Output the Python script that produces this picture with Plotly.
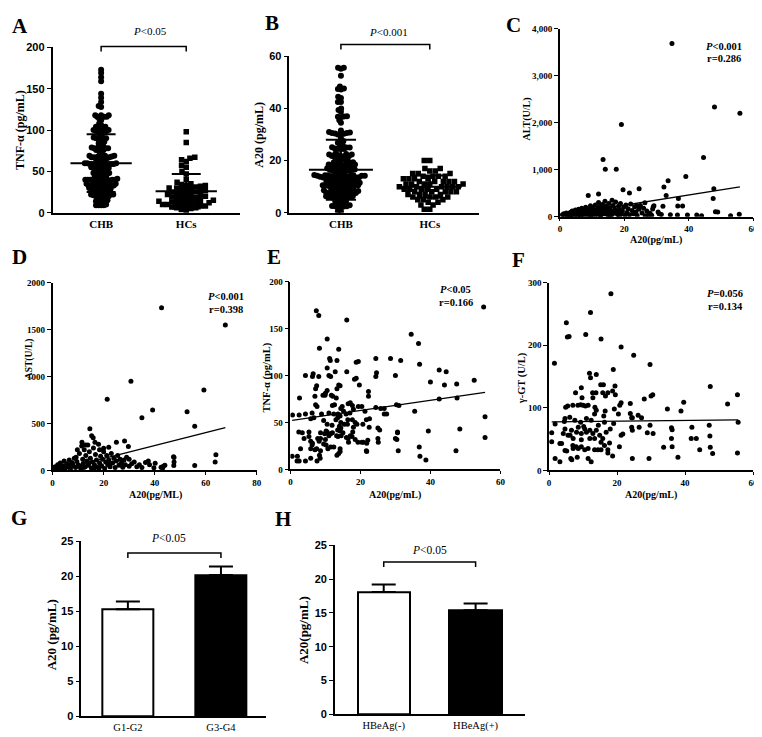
import math
import plotly.graph_objects as go

W, H = 762, 737

# ---------------- data ----------------
# CHB patients: A20 (x) vs TNF-alpha (y); also used for the CHB columns of A and B
e_a20 = [7.4, 8.1, 16.1, 10.5, 8.3, 13.8, 11.2, 11.4, 13.3, 19.4,
         18.8, 24.4, 28.6, 31.5, 34.5, 10.5, 12.8, 16.1, 11, 11.5,
         8.1, 6.5, 6.3, 4.3, 24.6, 24.4, 30, 18.3, 18.8, 19.7,
         13.8, 7.5, 7.2, 10.5, 13.3, 14.2, 10, 9.3, 9.9, 11.7,
         12.1, 13.1, 7, 2.6, 22.3, 22.3, 7.2, 7.6, 12, 12.6,
         14.8, 14.4, 16.5, 17.1, 17.7, 19.4, 20.4, 18, 15.2, 15.9,
         17, 21.3, 24.4, 25.8, 26.8, 27.5, 26.8, 30.3, 31, 35.5,
         2.5, 4.3, 6.2, 6.7, 8.9, 11, 12.4, 13.6, 14.2, 5.8,
         9.5, 10.5, 13, 13.5, 14, 14.4, 11.9, 13.5, 14.2, 14.4,
         15.4, 16.3, 16.4, 17.7, 18.5, 19, 21.7, 22.6, 20.7, 22.5,
         18, 3.4, 5.3, 5.3, 5.8, 6.3, 7.8, 8.2, 3.9, 6.2,
         8.6, 9.8, 10.2, 10.5, 11, 11.5, 12, 13.2, 13.6, 14.5,
         15, 16, 16.5, 17.1, 17.6, 17.8, 16.6, 18.5, 19.3, 20.4,
         20.8, 22.1, 21.8, 25, 25.1, 25, 30, 30.6, 30.8, 21.8,
         9.5, 10.2, 10.7, 11.5, 12.4, 14.2, 13.8, 13.3, 14.2, 5.8,
         7, 7.5, 8.6, 8.3, 8.5, 7.6, 5.8, 2.5, 4.3, 2,
         2.9, 8.6, 10, 55.2, 36.6, 36.9, 40, 42.5, 44.5, 44,
         47.5, 52.5, 42.5, 47.6, 55.6, 55.6, 48.4, 47.3, 39.4, 36.8,
         37, 38.7, 30.6, 30.4, 25.5, 21.7, 0.5, 1.9, 2.4, 0.6]
e_tnf = [169, 164, 159, 139, 129, 128, 118, 116, 116, 115,
         114, 118, 118, 116, 144, 108, 104, 104, 100, 99,
         99, 102, 99, 100, 103, 99, 100, 96, 97, 90,
         90, 89, 86, 84, 86, 89, 81, 79, 79, 79,
         78, 76, 78, 76, 83, 78, 69, 67, 68, 69,
         67, 65, 70, 71, 68, 67, 67, 64, 62, 59,
         60, 62, 66, 65, 65, 59, 59, 69, 68, 62,
         58, 59, 60, 55, 59, 60, 59, 59, 57, 54,
         52, 48, 53, 55, 46, 44, 47, 42, 41, 50,
         48, 48, 53, 53, 50, 48, 53, 54, 48, 45,
         45, 39, 40, 35, 30, 28, 33, 30, 33, 26,
         39, 38, 41, 40, 36, 38, 39, 36, 35, 36,
         39, 34, 33, 36, 35, 40, 29, 32, 29, 29,
         29, 31, 28, 33, 29, 44, 33, 39, 20, 19,
         27, 26, 22, 24, 24, 22, 17, 15, 19, 22,
         21, 22, 20, 15, 12, 9, 12, 9, 9, 14,
         22, 33, 32, 173, 134, 112, 93, 106, 104, 90,
         91, 95, 75, 76, 56, 34, 43, 20, 41, 24,
         14, 10, 40, 32, 42, 20, 14, 9, 40, 58]

hc_tnf = [98, 85, 67, 66, 64, 62, 57, 55, 50, 47, 40, 37, 35, 34, 33, 33, 32, 31, 30, 29,
          28, 27, 27, 26, 25, 24, 23, 22, 21, 20, 20, 19, 18, 17, 16, 15, 15, 14, 13, 12,
          12, 11, 10, 10, 9, 8, 8, 7, 6, 5, 4, 3, 22, 18, 14, 10, 30, 25, 12, 6]
hc_a20 = [20, 20, 17, 17, 16, 16, 15, 15, 15, 14, 14, 14, 13, 13, 13, 13, 12, 12, 12, 12,
          11, 11, 11, 11, 10, 10, 10, 10, 10, 9, 9, 9, 9, 8, 8, 8, 8, 7, 7, 7,
          7, 6, 6, 6, 5, 5, 5, 4, 4, 3, 3, 1.3, 1.3, 12, 9, 11, 14, 8, 6, 10]

groups_ab = ["CHB", "HCs"]
a_mean = [60, 26]
a_sd = [35, 21]
b_mean = [16.5, 10]
b_sd = [11.5, 4.3]

c_a20 = [34.8, 48, 55.9, 19.1, 13.4, 14.1, 17.5, 44.6, 39.1, 33.6,
         32.3, 24.6, 19.6, 8.8, 12, 21.6, 33, 47.6, 47.8, 36.8,
         36.6, 38.1, 26.4, 32, 24.7, 48.3, 49, 53, 55.7, 39.6,
         42.5, 30.8, 28.5, 26.5, 31.5, 34.3, 36.5, 44, 30.5, 27.5,
         0.8, 1.2, 1.5, 2, 2.3, 2.8, 3, 3.2, 3.5, 3.8,
         4, 4.2, 4.5, 4.8, 5, 5.3, 5.5, 5.8, 6, 6.2,
         6.5, 6.8, 7, 7.2, 7.5, 7.8, 8, 8.2, 8.5, 8.8,
         9, 9.2, 9.5, 9.8, 10, 10.2, 10.5, 10.8, 11, 11.2,
         11.5, 11.8, 12, 12.2, 12.4, 12.6, 12.8, 13, 13.2, 13.5,
         13.8, 14, 14.2, 14.5, 14.8, 15, 15.2, 15.5, 15.8, 16,
         16.2, 16.5, 16.8, 17, 17.3, 17.6, 17.9, 18.2, 18.5, 18.8,
         19, 19.4, 19.8, 20.2, 20.5, 20.8, 21.2, 21.6, 22, 22.4,
         22.8, 23.2, 23.6, 24, 24.5, 25, 25.5, 26, 27, 28,
         29, 23.9, 28.8, 29.2, 9.5, 12.5, 15.5, 18.5, 6.5, 3.5]
c_alt = [3685, 2335, 2200, 1960, 1217, 1007, 1007, 1260, 853, 762,
         629, 594, 573, 448, 483, 503, 448, 385, 594, 385,
         225, 225, 294, 224, 203, 105, 100, 21, 49, 35,
         35, 60, 30, 20, 45, 42, 35, 20, 100, 40,
         40, 60, 20, 80, 30, 50, 15, 90, 40, 120,
         60, 25, 80, 140, 45, 100, 20, 160, 70, 35,
         120, 180, 55, 90, 25, 140, 200, 60, 110, 30,
         160, 80, 230, 45, 130, 190, 70, 25, 250, 100,
         160, 50, 300, 210, 80, 130, 35, 180, 260, 110,
         60, 330, 220, 150, 40, 90, 280, 190, 120, 30,
         350, 240, 70, 160, 310, 100, 45, 220, 150, 280,
         60, 120, 200, 30, 250, 90, 170, 40, 270, 130,
         60, 210, 100, 25, 160, 240, 80, 180, 120, 70,
         210, 230, 165, 230, 10, 15, 10, 10, 10, 5]
c_fit = [26, 10.9]      # intercept, slope

d_a20 = [42.7, 67.7, 30.7, 59.3, 21.4, 39.2, 52.7, 35, 55.7, 14.6,
         15.3, 15.9, 25, 28.2, 29.7, 22, 47.6, 47.6, 47.5, 64,
         63.7, 55.7, 43.4, 42.5, 39.7, 36.4, 40.2, 43.1, 47.4, 37.5,
         34, 32, 33, 30, 31, 35, 38, 44, 11.4, 12.9,
         16.6, 18.4, 20, 9.7, 0.5, 1, 1.5, 2, 2.5, 3,
         3.5, 4, 4.5, 5, 5.5, 6, 6.5, 7, 7.5, 8,
         8.5, 9, 9.5, 10, 10.5, 11, 11.5, 11.8, 12, 12.4,
         12.8, 13, 13.4, 13.8, 14, 14.4, 14.8, 15.2, 15.6, 16,
         16.4, 16.8, 17.2, 17.6, 18, 18.4, 18.8, 19.2, 19.6, 20,
         20.4, 20.8, 21.2, 21.6, 22, 22.5, 23, 23.5, 24, 24.5,
         25, 25.5, 26, 26.5, 27, 27.5, 28, 28.5, 29, 30,
         6.8, 9.2, 12.2, 16.2, 3.8, 7.8, 10.8, 14.2, 18.2, 22.2]
d_ast = [1732, 1548, 950, 856, 758, 643, 626, 560, 470, 445,
         369, 348, 299, 313, 254, 247, 139, 90, 52, 167,
         90, 52, 45, 35, 28, 84, 77, 24, 146, 100,
         60, 90, 40, 120, 70, 30, 60, 55, 261, 271,
         299, 219, 236, 219, 20, 40, 10, 60, 30, 80,
         15, 50, 100, 25, 70, 40, 110, 15, 85, 50,
         130, 30, 95, 60, 180, 20, 300, 120, 75, 220,
         40, 160, 100, 270, 55, 200, 130, 25, 90, 240,
         60, 170, 110, 35, 280, 80, 150, 50, 120, 200,
         20, 90, 160, 60, 110, 40, 180, 80, 130, 30,
         100, 160, 55, 120, 80, 35, 110, 60, 140, 45,
         60, 140, 30, 15, 35, 70, 45, 80, 25, 65]
d_fit = [-11, 6.9]

e_fit = [52, 0.54]

f_a20 = [18.2, 12.2, 5.1, 5.4, 5.9, 10.8, 15.3, 21.2, 24.9, 1.6,
         29.7, 18.9, 11.9, 12.2, 13.9, 15.2, 16, 19.4, 9.5, 7.8,
         12.8, 13.8, 12.9, 18.7, 19.5, 17.3, 21.2, 20.8, 23.9, 28,
         30, 30.5, 34.8, 15.8, 16.6, 4.9, 5.5, 7, 8.5, 9.3,
         10, 10.7, 9.7, 11.5, 13.9, 13.5, 16.5, 16.1, 19.2, 20.4,
         23.9, 24.3, 26.2, 27.2, 1.8, 4.7, 4.5, 6.1, 7.6, 9.3,
         11, 12.4, 13.4, 16.3, 19, 24.5, 24.3, 0.8, 0.8, 4.2,
         4.7, 5.6, 6.2, 6.6, 8.1, 8.6, 9.5, 10.5, 11, 12,
         12.9, 13.9, 14.9, 15.8, 16.8, 13.4, 12, 9.5, 7.1, 3.2,
         3.7, 7, 8, 4.7, 5.2, 7.1, 8.6, 9.5, 10.5, 11.5,
         13.4, 14.4, 15.3, 17.3, 16.3, 15.3, 17.8, 18.7, 6.4, 6.7,
         1.8, 3.2, 8.3, 11.5, 12.4, 17.3, 20.7, 21.2, 21.7, 24.5,
         24.5, 26.5, 28.9, 30.6, 29.4, 47.4, 55.4, 39.6, 52.5, 38.8,
         55.6, 36, 36.2, 42, 47.1, 41.8, 43.3, 36, 47.3, 33.7,
         36.2, 44.3, 47.4, 48.1, 55.4, 37.9, 29.7, 10.2, 14.5, 18]
f_ggt = [282, 252, 236, 213, 214, 217, 210, 197, 184, 171,
         169, 161, 155, 148, 153, 137, 137, 135, 132, 124,
         124, 124, 116, 127, 121, 124, 108, 104, 107, 114,
         119, 121, 98, 124, 119, 101, 103, 104, 104, 105,
         104, 103, 116, 104, 96, 101, 95, 87, 98, 90,
         91, 84, 88, 84, 74, 83, 78, 85, 80, 77,
         83, 80, 90, 77, 75, 84, 69, 60, 46, 59,
         66, 56, 56, 64, 61, 69, 59, 66, 61, 64,
         59, 64, 56, 51, 61, 51, 51, 49, 51, 43,
         43, 40, 38, 32, 31, 35, 35, 38, 33, 35,
         33, 33, 33, 33, 40, 45, 44, 23, 19, 17,
         19, 14, 21, 19, 14, 28, 38, 56, 58, 64,
         19, 69, 60, 59, 19, 134, 121, 109, 106, 95,
         77, 68, 65, 69, 72, 51, 51, 51, 55, 37,
         38, 33, 37, 27, 28, 21, 72, 70, 72, 66]
f_fit = [77.5, 0.06]

g_groups = ["G1-G2", "G3-G4"]
g_mean = [15.3, 20.2]
g_sem = [1.1, 1.2]
h_groups = ["HBeAg(-)", "HBeAg(+)"]
h_mean = [18.1, 15.4]
h_sem = [1.1, 1.0]

# ---------------- layout geometry (pixels: left, right, top, bottom) ----------------
BOX = {
    "A": (43, 232, 34, 202),
    "B": (282, 473, 43, 202),
    "C": (555, 750, 15, 206),
    "D": (43, 249, 273, 464),
    "E": (283, 495, 272, 463),
    "F": (544, 750, 273, 464),
    "G": (72, 258, 536, 714),
    "H": (328, 520, 540, 712),
}
XR = {"A": [-0.57, 1.63], "B": [-0.58, 1.55], "C": [0, 60], "D": [0, 80],
      "E": [0, 60], "F": [0, 60], "G": [-0.5, 1.48], "H": [-0.53, 1.54]}
YR = {"A": [0, 200], "B": [0, 60], "C": [0, 4000], "D": [0, 2000],
      "E": [0, 200], "F": [0, 300], "G": [0, 25], "H": [0, 25]}
AX = {"A": "", "B": "2", "C": "3", "D": "4", "E": "5", "F": "6", "G": "7", "H": "8"}

SERIF = "Liberation Serif, Times New Roman, serif"
NARROW = "Liberation Sans Narrow, Arial Narrow, Liberation Sans, Arial, sans-serif"


def px_per_unit(k):
    l, r, t, b = BOX[k]
    return (r - l) / (XR[k][1] - XR[k][0]), (b - t) / (YR[k][1] - YR[k][0])


def cat_px(k, v):
    l, r, t, b = BOX[k]
    return l + (v - XR[k][0]) / (XR[k][1] - XR[k][0]) * (r - l)


def swarm(values, k, diam):
    xpu, ypu = px_per_unit(k)
    order = sorted(range(len(values)), key=lambda i: values[i])
    placed = []
    offs = [0.0] * len(values)
    for i in order:
        y = values[i] * ypu
        near = [(px, py) for px, py in placed if abs(py - y) < diam]
        cands = [0.0]
        for px, py in near:
            dx = math.sqrt(max(diam ** 2 - (py - y) ** 2, 0))
            cands += [px - dx, px + dx]
        cands.sort(key=lambda c: (round(abs(c), 6), c))
        chosen = 0.0
        for c in cands:
            if all((c - px) ** 2 + (py - y) ** 2 >= diam ** 2 - 1e-6 for px, py in near):
                chosen = c
                break
        placed.append((chosen, y))
        offs[i] = chosen / xpu
    return offs


fig = go.Figure()


def ax(k):
    s = AX[k]
    return "x" + s, "y" + s


# ----- A and B: column scatter with mean and SD -----
def column_panel(k, chb, hcs, means, sds, d1, d2):
    xa, ya = ax(k)
    o1 = swarm(chb, k, d1)
    o2 = swarm(hcs, k, d2)
    fig.add_trace(go.Scatter(x=[0 + o for o in o1], y=chb, mode="markers",
                             marker=dict(symbol="circle", size=6, color="black"),
                             xaxis=xa, yaxis=ya, showlegend=False))
    fig.add_trace(go.Scatter(x=[1 + o for o in o2], y=hcs, mode="markers",
                             marker=dict(symbol="square", size=5.5, color="black"),
                             xaxis=xa, yaxis=ya, showlegend=False))
    lx, ly = [], []
    for i, (m, s) in enumerate(zip(means, sds)):
        lx += [i - 0.36, i + 0.36, None, i - 0.17, i + 0.17, None,
               i - 0.17, i + 0.17, None, i, i, None]
        ly += [m, m, None, m + s, m + s, None, m - s, m - s, None, m - s, m + s, None]
    fig.add_trace(go.Scatter(x=lx, y=ly, mode="lines", line=dict(color="black", width=2),
                             xaxis=xa, yaxis=ya, showlegend=False))


column_panel("A", e_tnf, hc_tnf, a_mean, a_sd, 2.6, 5.0)
column_panel("B", e_a20, hc_a20, b_mean, b_sd, 3.1, 5.6)


# ----- C-F: correlations -----
def corr_panel(k, xs, ys, fit):
    xa, ya = ax(k)
    fig.add_trace(go.Scatter(x=xs, y=ys, mode="markers",
                             marker=dict(symbol="circle", size=5, color="black"),
                             xaxis=xa, yaxis=ya, showlegend=False))
    x0, x1 = min(xs), max(xs)
    fig.add_trace(go.Scatter(x=[x0, x1], y=[fit[0] + fit[1] * x0, fit[0] + fit[1] * x1],
                             mode="lines", line=dict(color="black", width=1.3),
                             xaxis=xa, yaxis=ya, showlegend=False))


corr_panel("C", c_a20, c_alt, c_fit)
corr_panel("D", d_a20, d_ast, d_fit)
corr_panel("E", e_a20, e_tnf, e_fit)
corr_panel("F", f_a20, f_ggt, f_fit)


# ----- G, H: bars -----
def bar_panel(k, means, sems, width):
    xa, ya = ax(k)
    fig.add_trace(go.Bar(x=[0, 1], y=means, width=width,
                         marker=dict(color=["white", "black"], line=dict(color="black", width=2)),
                         error_y=dict(type="data", symmetric=False, array=sems, arrayminus=[0, 0],
                                      color="black", thickness=2, width=12),
                         xaxis=xa, yaxis=ya, showlegend=False))


bar_panel("G", g_mean, g_sem, 0.55)
bar_panel("H", h_mean, h_sem, 0.57)

# ----- axes -----
layout_axes = {}
for k in BOX:
    l, r, t, b = BOX[k]
    s = AX[k]
    base = dict(showline=True, linecolor="black", linewidth=1.6, ticks="outside", ticklen=4,
                tickwidth=1.4, tickcolor="black", showgrid=False, zeroline=False, fixedrange=True)
    xd = dict(base, domain=[l / W, r / W], range=XR[k], anchor="y" + s)
    yd = dict(base, domain=[1 - b / H, 1 - t / H], range=YR[k], anchor="x" + s)
    if k in ("A", "B", "G", "H"):
        labels = groups_ab if k in ("A", "B") else (g_groups if k == "G" else h_groups)
        xd.update(tickvals=[0, 1], ticktext=labels, ticks="",
                  tickfont=dict(family=SERIF, size=11 if k in ("A", "B") else 10.5,
                                color="black", weight="bold" if k in ("A", "B") else "normal"))
        yd.update(tickfont=dict(family=NARROW, size=11, color="black", weight="bold"))
    else:
        xd.update(ticklen=3, tickfont=dict(family=SERIF, size=9, color="black", weight="bold"))
        yd.update(tickfont=dict(family=SERIF, size=9, color="black", weight="bold"))
    layout_axes["xaxis" + s] = xd
    layout_axes["yaxis" + s] = yd

layout_axes["yaxis"].update(tickvals=[0, 50, 100, 150, 200])
layout_axes["yaxis2"].update(tickvals=[0, 20, 40, 60])
layout_axes["xaxis3"].update(tickvals=[0, 20, 40, 60])
layout_axes["yaxis3"].update(tickvals=[0, 1000, 2000, 3000, 4000], tickformat=",")
layout_axes["xaxis4"].update(tickvals=[0, 20, 40, 60, 80])
layout_axes["yaxis4"].update(tickvals=[0, 500, 1000, 1500, 2000], tickformat="d")
layout_axes["xaxis5"].update(tickvals=[0, 20, 40, 60])
layout_axes["yaxis5"].update(tickvals=[0, 50, 100, 150, 200])
layout_axes["xaxis6"].update(tickvals=[0, 20, 40, 60])
layout_axes["yaxis6"].update(tickvals=[0, 100, 200, 300])
layout_axes["yaxis7"].update(tickvals=[0, 5, 10, 15, 20, 25])
layout_axes["yaxis8"].update(tickvals=[0, 5, 10, 15, 20, 25])

# ----- annotations -----
ann = []


def text(x, y, s, size, bold=True, angle=0, family=SERIF):
    ann.append(dict(x=x / W, y=1 - y / H, xref="paper", yref="paper", text=s, showarrow=False,
                    xanchor="center", yanchor="middle", textangle=angle,
                    font=dict(family=family, size=size, color="black",
                              weight="bold" if bold else "normal")))


for k, (x, y) in {"A": (10, 12), "B": (264, 9), "C": (508, 11), "D": (10, 247),
                  "E": (266, 247), "F": (513, 250), "G": (9, 512), "H": (276, 513)}.items():
    text(x, y, k, 21)

text(141, 17, "<i>P</i>&lt;0.05", 11, bold=False)
text(382, 18, "<i>P</i>&lt;0.001", 11, bold=False)
text(721, 33, "<i>P</i>&lt;0.001", 10.5)
text(721, 45, "r=0.286", 10.5)
text(218, 287, "<i>P</i>&lt;0.001", 10.5)
text(218, 300, "r=0.398", 10.5)
text(450, 280, "<i>P</i>&lt;0.05", 10.5)
text(450, 293, "r=0.166", 10.5)
text(722, 284, "<i>P</i>=0.056", 10.5)
text(722, 297, "r=0.134", 10.5)
text(160, 533, "<i>P</i>&lt;0.05", 11.5, bold=False)
text(423, 545, "<i>P</i>&lt;0.05", 11.5, bold=False)

text(10, 118, "TNF-α (pg/mL)", 12, angle=-90)
text(251, 123, "A20 (pg/mL)", 12, angle=-90)
text(522, 107, "ALT(U/L)", 10, angle=-90)
text(19, 350, "AST(U/L)", 9.5, angle=-90)
text(259, 370, "TNF-α (pg/mL)", 10.5, angle=-90)
text(517, 370, "γ-GT (U/L)", 10.5, angle=-90)
text(42, 631, "A20 (pg/mL)", 13, angle=-90)
text(297, 626, "A20(pg/mL)", 13, angle=-90)

text(652, 230, "A20(pg/mL)", 10)
text(147, 489, "A20(pg/ML)", 10)
text(389, 489, "A20(pg/mL)", 10)
text(647, 489, "A20(pg/mL)", 10)

# ----- significance brackets -----
shapes = []


def bracket(k, ytop, drop):
    x0 = cat_px(k, 0)
    x1 = cat_px(k, 1)
    path = "M {:.4f},{:.4f} L {:.4f},{:.4f} L {:.4f},{:.4f} L {:.4f},{:.4f}".format(
        x0 / W, 1 - (ytop + drop) / H, x0 / W, 1 - ytop / H,
        x1 / W, 1 - ytop / H, x1 / W, 1 - (ytop + drop) / H)
    shapes.append(dict(type="path", path=path, xref="paper", yref="paper",
                       line=dict(color="black", width=1.5)))


bracket("A", 33, 5)
bracket("B", 31, 5)
bracket("G", 548, 5)
bracket("H", 557, 5)

fig.update_layout(
    width=W, height=H, autosize=False,
    margin=dict(l=0, r=0, t=0, b=0, pad=0),
    paper_bgcolor="white", plot_bgcolor="white",
    showlegend=False, annotations=ann, shapes=shapes,
    bargap=0,
    **layout_axes,
)

fig.write_html("out.html")
